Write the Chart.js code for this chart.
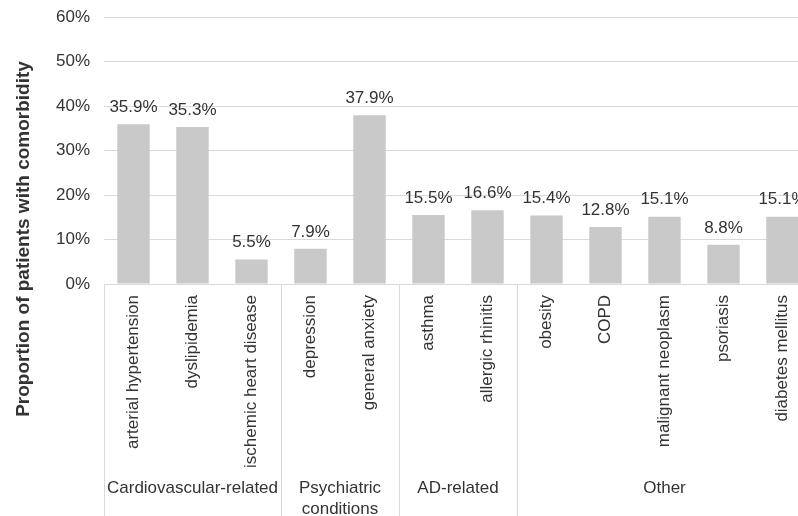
<!DOCTYPE html>
<html>
<head>
<meta charset="utf-8">
<script src="https://cdn.jsdelivr.net/npm/chart.js@4"></script>
<style>
  html, body { margin: 0; padding: 0; background: #fff; overflow: hidden; }
  canvas { display: block; }
</style>
</head>
<body>
<canvas id="myChart" width="812" height="516"></canvas>
<script>
// data
var categories = ['arterial hypertension', 'dyslipidemia', 'ischemic heart disease', 'depression', 'general anxiety',
    'asthma', 'allergic rhinitis', 'obesity', 'COPD', 'malignant neoplasm', 'psoriasis', 'diabetes mellitus'];
var values = [35.9, 35.3, 5.5, 7.9, 37.9, 15.5, 16.6, 15.4, 12.8, 15.1, 8.8, 15.1];
var groupNames = [['Cardiovascular-related'], ['Psychiatric', 'conditions'], ['AD-related'], ['Other']];
var groupStarts = [0, 3, 5, 7];
var yTicks = [0, 10, 20, 30, 40, 50, 60];

var fontFamily = '"Liberation Sans", Arial, sans-serif';
var textColor = '#333333';
var lineColor = '#d9d9d9';

// data labels + group boxes + y title
var extras = {
    id: 'extras',
    afterDraw: function (chart) {
        var c = chart.ctx;
        var xs = chart.scales.x;
        var area = chart.chartArea;
        var step = xs.getPixelForValue(1) - xs.getPixelForValue(0);

        // values above the bars
        c.save();
        c.font = '17px ' + fontFamily;
        c.fillStyle = textColor;
        c.textAlign = 'center';
        c.textBaseline = 'middle';
        chart.getDatasetMeta(0).data.forEach(function (bar, i) {
            c.fillText(values[i].toFixed(1) + '%', bar.x, bar.y - 17);
        });

        // separators between groups
        c.strokeStyle = lineColor;
        c.lineWidth = 1;
        var bounds = groupStarts.concat([categories.length]);
        bounds.forEach(function (idx) {
            var x = Math.round(xs.getPixelForValue(idx) - step / 2) + 0.5;
            c.beginPath();
            c.moveTo(x, area.bottom);
            c.lineTo(x, chart.height);
            c.stroke();
        });

        // group names
        for (var g = 0; g < groupNames.length; g++) {
            var x0 = xs.getPixelForValue(bounds[g]) - step / 2;
            var x1 = xs.getPixelForValue(bounds[g + 1]) - step / 2;
            groupNames[g].forEach(function (line, k) {
                c.fillText(line, (x0 + x1) / 2, area.bottom + 204 + k * 21);
            });
        }

        // y axis title
        c.font = 'bold 19px ' + fontFamily;
        c.translate(24, 239);
        c.rotate(-Math.PI / 2);
        c.fillText('Proportion of patients with comorbidity', 0, 0);
        c.restore();
    }
};

var ctx = document.getElementById('myChart').getContext('2d');
var myChart = new Chart(ctx, {
    type: 'bar',
    data: {
        labels: categories,
        datasets: [{
            data: values,
            backgroundColor: '#c9c9c9',
            borderWidth: 0,
            categoryPercentage: 1,
            barPercentage: 0.55
        }]
    },
    options: {
        responsive: false,
        animation: false,
        layout: { padding: { top: 17, right: 0, bottom: 0, left: 0 } },
        plugins: {
            legend: { display: false },
            tooltip: { enabled: false }
        },
        scales: {
            x: {
                grid: { display: false },
                border: { display: false },
                ticks: {
                    color: textColor,
                    font: { size: 17, family: fontFamily },
                    minRotation: 90,
                    maxRotation: 90,
                    autoSkip: false,
                    padding: 3
                },
                afterFit: function (scale) {
                    scale.height = 232;
                    scale.paddingLeft = 0;
                    scale.paddingRight = 0;
                }
            },
            y: {
                min: 0,
                max: 60,
                afterBuildTicks: function (scale) {
                    scale.ticks = yTicks.map(function (v) { return { value: v }; });
                },
                grid: { color: lineColor, drawTicks: false },
                border: { display: false },
                ticks: {
                    color: textColor,
                    font: { size: 17, family: fontFamily },
                    padding: 14,
                    callback: function (v) { return v + '%'; }
                },
                afterFit: function (scale) {
                    scale.width = 104;
                    scale.paddingTop = 0;
                    scale.paddingBottom = 0;
                }
            }
        }
    },
    plugins: [extras]
});
</script>
</body>
</html>
